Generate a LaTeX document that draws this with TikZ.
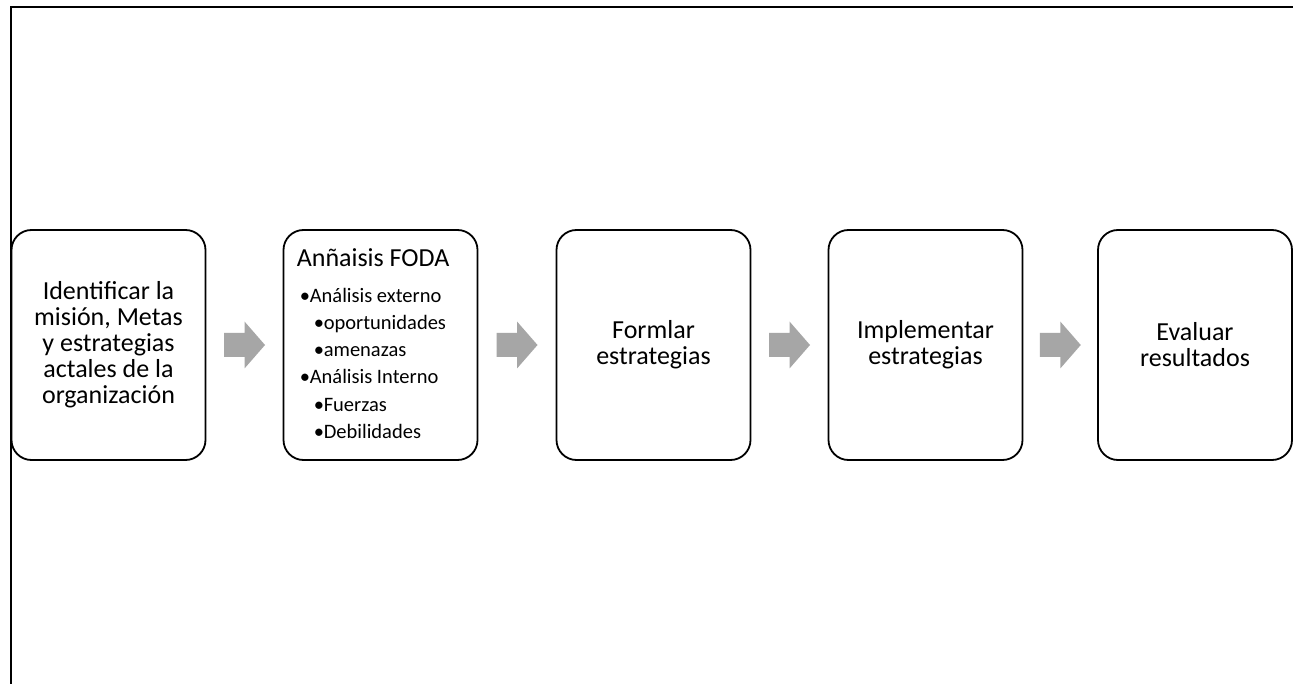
\documentclass[tikz,border=0pt]{standalone}
\usepackage{fontspec}
\setmainfont{Carlito}
\usetikzlibrary{calc}
\definecolor{arrowgray}{HTML}{A6A6A6}
\tikzset{
  stage/.style={draw=black, line width=1.8pt, rounded corners=20pt, minimum width=194pt, minimum height=230pt, align=center, inner sep=0pt,
    font=\fontsize{26}{26}\selectfont},
  frameline/.style={line width=2pt, black},
  fodatitle/.style={anchor=base west, inner sep=0pt, font=\fontsize{26}{26}\selectfont},
  fodaitem/.style={anchor=base west, inner sep=0pt, font=\fontsize{20.5}{24}\selectfont},
}
\newcommand{\grayarrow}[1]{%
  \fill[arrowgray] ($(#1)+(-20.5,-12)$) -- ++(20.5,0) -- ++(0,-11.5) -- ++(20.5,23.5) -- ++(-20.5,23.5) -- ++(0,-11.5) -- ++(-20.5,0) -- cycle;}
\newcommand{\bul}{\makebox[10pt][l]{•}}
\begin{document}
\begin{tikzpicture}[x=1pt,y=-1pt]
\useasboundingbox (0,0) rectangle (1293,684);
\fill[white] (0,0) rectangle (1293,684);
\coordinate (fbl) at (11,684);
\coordinate (ftl) at (11,7);
\coordinate (ftr) at (1293,7);
\draw[frameline] (fbl) -- (ftl) -- (ftr);

\node[stage] (s1) at (108.5,345) {Identificar la\\misión, Metas\\y estrategias\\actales de la\\organización};
\node[stage] (s2) at (380.5,345) {};
\node[stage] (s3) at (653.5,345) {Formlar\\estrategias};
\node[stage] (s4) at (925.5,345) {Implementar\\estrategias};
\node[stage] (s5) at (1195,345) {Evaluar\\resultados};

\node[fodatitle] (ft) at ($(s2.north west)+(14,37)$) {Anñaisis FODA};
\node[fodaitem] (f1) at ($(s2.north west)+(17,73)$) {\bul Análisis externo};
\node[fodaitem] (f2) at ($(s2.north west)+(31,100)$) {\bul oportunidades};
\node[fodaitem] (f3) at ($(s2.north west)+(31,127)$) {\bul amenazas};
\node[fodaitem] (f4) at ($(s2.north west)+(17,154)$) {\bul Análisis Interno};
\node[fodaitem] (f5) at ($(s2.north west)+(31,182)$) {\bul Fuerzas};
\node[fodaitem] (f6) at ($(s2.north west)+(31,209)$) {\bul Debilidades};

\coordinate (m1) at ($(s1.east)!0.5!(s2.west)$);
\coordinate (m2) at ($(s2.east)!0.5!(s3.west)$);
\coordinate (m3) at ($(s3.east)!0.5!(s4.west)$);
\coordinate (m4) at ($(s4.east)!0.5!(s5.west)$);
\grayarrow{m1}
\grayarrow{m2}
\grayarrow{m3}
\grayarrow{m4}
\end{tikzpicture}
\end{document}
